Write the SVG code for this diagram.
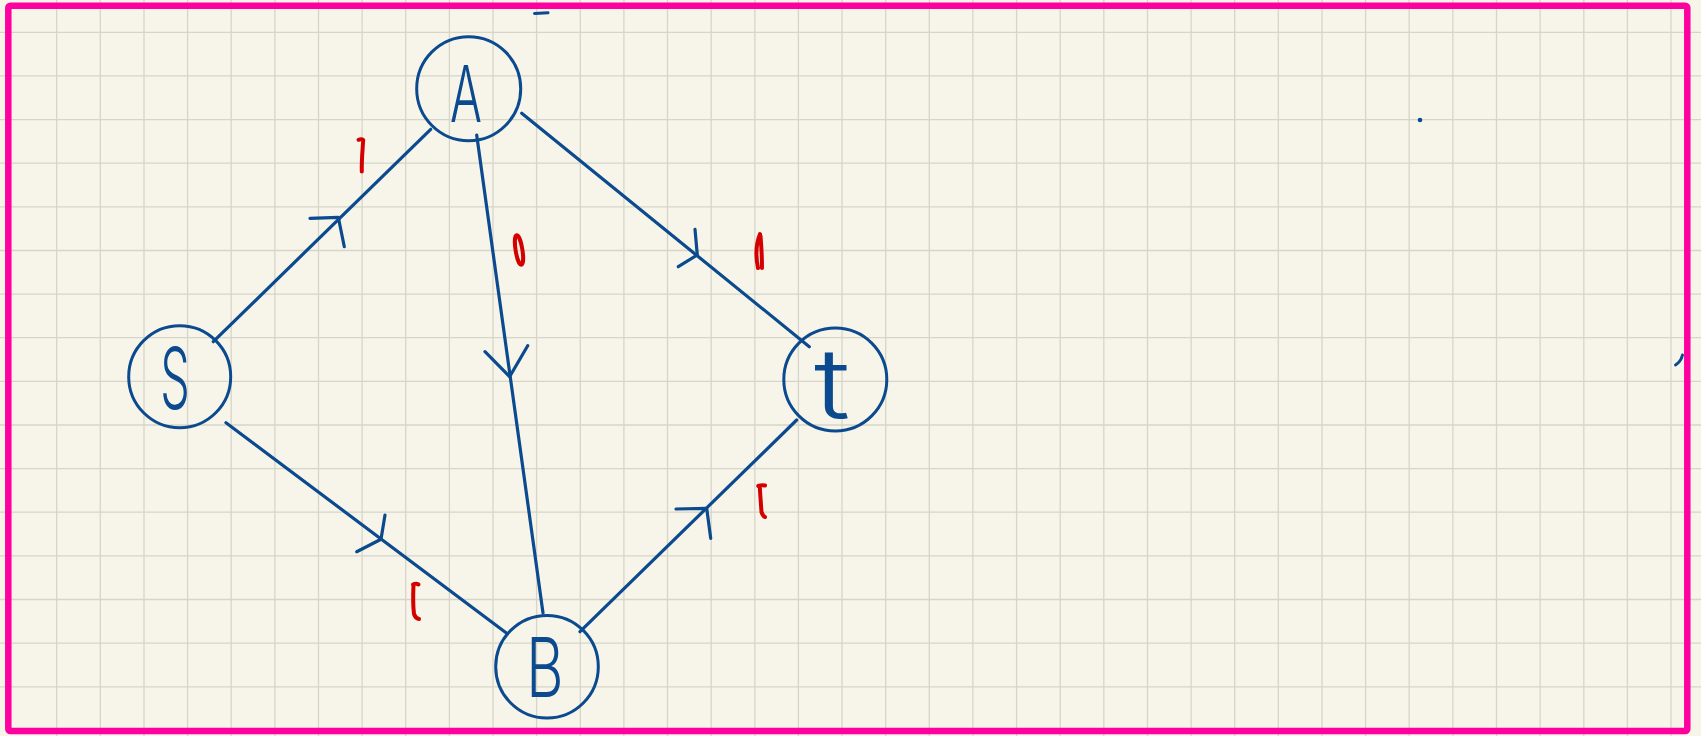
<svg xmlns="http://www.w3.org/2000/svg" width="1701" height="736" viewBox="0 0 1701 736">
<style>
.grid{stroke:#d6d5c8;stroke-width:1.3;fill:none}
.node circle{fill:none;stroke:#0b4a8e;stroke-width:3}
.lbl{fill:#0b4a8e;font-family:Inter,"Open Sans","Liberation Sans",sans-serif;font-weight:300;text-anchor:middle}
.edge{stroke:#0b4a8e;stroke-width:3.2;stroke-linecap:round;stroke-linejoin:round;fill:none}
.w{stroke:#d40000;stroke-width:4;stroke-linecap:round;stroke-linejoin:round;fill:none}
.mark{stroke:#0b4a8e;stroke-width:3;stroke-linecap:round;fill:none}
</style>
<rect x="0" y="0" width="1701" height="736" fill="#f7f5ea"/>
<path class="grid" d="M56.7,0V736M100.3,0V736M144,0V736M187.6,0V736M231.2,0V736M274.9,0V736M318.5,0V736M362.1,0V736M405.7,0V736M449.4,0V736M493,0V736M536.6,0V736M580.3,0V736M623.9,0V736M667.5,0V736M711.2,0V736M754.8,0V736M798.4,0V736M842,0V736M885.7,0V736M929.3,0V736M972.9,0V736M1016.6,0V736M1060.2,0V736M1103.8,0V736M1147.5,0V736M1191.1,0V736M1234.7,0V736M1278.3,0V736M1322,0V736M1365.6,0V736M1409.2,0V736M1452.9,0V736M1496.5,0V736M1540.1,0V736M1583.8,0V736M1627.4,0V736M1671,0V736M0,32.3H1701M0,75.9H1701M0,119.6H1701M0,163.2H1701M0,206.8H1701M0,250.5H1701M0,294.1H1701M0,337.7H1701M0,381.3H1701M0,425H1701M0,468.6H1701M0,512.2H1701M0,555.9H1701M0,599.5H1701M0,643.1H1701M0,686.8H1701"/>
<rect x="8.3" y="5.8" width="1679" height="725.2" rx="2" fill="none" stroke="#ff00a0" stroke-width="6.5"/>

<g id="connectors">
  <g id="edge-S-A"><path class="edge" d="M213.3,341.7L430.7,129.3"/><path class="edge" d="M310,218.3L338.3,217.3L344.3,246.7"/><path class="w" d="M358.5,139.8C360,139.2 362,139 363.2,140C362.6,150 361.5,160 361.8,171.5"/></g>
  <g id="edge-A-B"><path class="edge" d="M476.7,135L543,613"/><path class="edge" d="M485,351.7L509.6,376.7L527.7,345.7"/><ellipse class="w" cx="519" cy="250" rx="3.4" ry="15" transform="rotate(-9 519 250)"/></g>
  <g id="edge-A-t"><path class="edge" d="M521.7,113.3L809.3,346.7"/><path class="edge" d="M695,229.3L697.3,255L678.3,266.7"/><path class="w" d="M760,234C756,244 755.5,256 758,268M760.5,236C761.5,248 762,258 762,268"/></g>
  <g id="edge-S-B"><path class="edge" d="M226,422.7L506.7,633.3"/><path class="edge" d="M385,515L381,539.3L356.7,551.7"/><path class="w" d="M413,584.5C415,583.5 417,583.5 418.5,584.5M413.5,585C413,596 413,606 414,614C415,617 417,618.5 419,619"/></g>
  <g id="edge-t-B"><path class="edge" d="M796.7,420L580,631.7"/><path class="edge" d="M676,509L706.7,508.3L710.7,538.3"/><path class="w" d="M758.3,486C760.5,485.2 763,485 765,485.5M759.8,487C760.3,496 761,505 761.5,512C762.5,515 764,516.5 765,517"/></g>
</g>

<g id="node-A" class="node"><circle cx="468.7" cy="88.7" r="52"/><text class="lbl" font-size="79" transform="translate(466,121.7) scale(0.6,1)">A</text></g>
<g id="node-S" class="node"><circle cx="179.7" cy="376.7" r="51"/><text class="lbl" font-size="85" transform="translate(175,408.5) scale(0.55,1)">S</text></g>
<g id="node-t" class="node"><circle cx="835.3" cy="379.5" r="51.5"/><text class="lbl" font-size="97" font-weight="200" transform="translate(832,418.3) scale(1.25,1)">t</text></g>
<g id="node-B" class="node"><circle cx="547" cy="666.7" r="51.3"/><text class="lbl" font-size="82" transform="translate(545,696.7) scale(0.7,1)">B</text></g>

<g id="marks">
  <path class="mark" d="M534.5,13.5L548,12.8"/>
  <circle cx="1420" cy="120" r="2.3" fill="#0b4a8e"/>
  <path class="mark" d="M1675.5,365C1679.5,362.5 1681.5,359 1682.5,355"/>
</g>
</svg>
